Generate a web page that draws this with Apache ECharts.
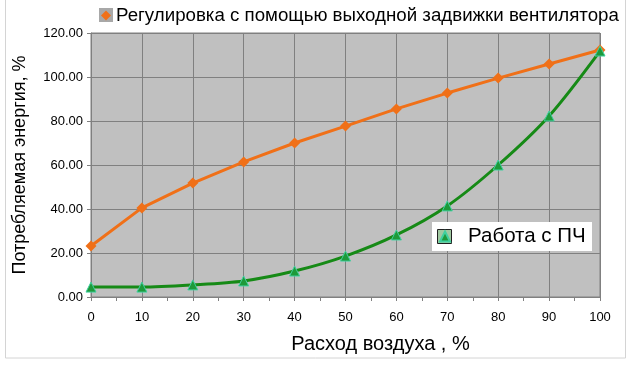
<!DOCTYPE html>
<html><head><meta charset="utf-8">
<script src="https://cdn.jsdelivr.net/npm/echarts@6/dist/echarts.min.js"></script>
<style>html,body{margin:0;padding:0;background:#fff}#c{width:631px;height:367px}</style>
</head><body><div id="c"></div>
<script>
var xValues = [0,10,20,30,40,50,60,70,80,90,100];
var valveSeries = [23.2,40.5,51.8,61.4,70.0,77.7,85.5,92.7,99.5,105.9,112.3];
var vfdSeries = [4.5,4.5,5.5,7.3,11.8,18.6,28.2,41.4,60.0,82.3,111.8];
var valveName = 'Регулировка с помощью выходной задвижки вентилятора';
var vfdName = 'Работа с ПЧ';
var xTitle = 'Расход воздуха , %';
var yTitle = 'Потребляемая энергия, %';

function pairs(v){ return xValues.map(function(x,i){ return [x, v[i]]; }); }
var font = 'Liberation Sans, Arial, sans-serif';
var chart = echarts.init(document.getElementById('c'), null, {renderer:'canvas'});
chart.setOption({
  animation:false,
  backgroundColor:'#fff',
  graphic:[
    {type:'rect', shape:{x:5.5,y:-5,width:620,height:363}, style:{fill:'none', stroke:'#d4d4d4', lineWidth:1}, z:-1},
    {type:'rect', shape:{x:99,y:8,width:14,height:14}, style:{fill:'#a8a8a8'}, z:-1},
    {type:'group', z:5, children:[
      {type:'rect', shape:{x:432,y:222,width:160,height:29}, style:{fill:'#fff'}, z:5},
      {type:'rect', shape:{x:437.5,y:229.5,width:14,height:14}, style:{fill:'#a0c8a0', stroke:'#202020', lineWidth:1}, z:5}
    ]}
  ],
  grid:{left:91, right:31, top:33, bottom:70, show:true, backgroundColor:'#c0c0c0', borderColor:'#808080', borderWidth:1},
  legend:[
    {data:[{name:valveName, icon:'diamond'}], left:101, top:6, padding:0, itemWidth:10, itemHeight:10, itemGap:4,
     textStyle:{fontFamily:font, fontSize:18.7, color:'#000', padding:[0,0,0,0]}},
    {data:[{name:vfdName, icon:'triangle'}], left:432, top:222, itemWidth:10, itemHeight:10, padding:[4,5,4,7],
     z:8, textStyle:{fontFamily:font, fontSize:20.5, color:'#000', padding:[0,0,0,13]}}
  ],
  xAxis:{type:'value', min:0, max:100, interval:10,
    name:xTitle, nameLocation:'middle', nameGap:37,
    nameTextStyle:{fontFamily:font, fontSize:20, color:'#000', padding:[0,0,0,70]},
    axisLine:{lineStyle:{color:'#808080'}},
    axisTick:{show:true, length:4, lineStyle:{color:'#808080'}},
    minorTick:{show:true, splitNumber:2, length:4, lineStyle:{color:'#808080'}},
    axisLabel:{fontFamily:font, fontSize:13, color:'#000', margin:14},
    splitLine:{show:true, lineStyle:{color:'#808080', width:1}}
  },
  yAxis:{type:'value', min:0, max:120, interval:20,
    name:yTitle, nameLocation:'middle', nameGap:62, nameRotate:90,
    nameTextStyle:{fontFamily:font, fontSize:18, color:'#000'},
    axisLine:{show:true, lineStyle:{color:'#808080'}},
    axisTick:{show:true, length:4, lineStyle:{color:'#808080'}},
    axisLabel:{fontFamily:font, fontSize:13, color:'#000', margin:8, formatter:function(v){return v.toFixed(2);}},
    splitLine:{show:true, lineStyle:{color:'#808080', width:1}}
  },
  series:[
    {name:valveName, type:'line', data:pairs(valveSeries), symbol:'diamond', symbolSize:11,
     lineStyle:{color:'#f07018', width:3}, itemStyle:{color:'#f07018'}},
    {name:vfdName, type:'line', data:pairs(vfdSeries), symbol:'triangle', symbolSize:10,
     smooth:0.3,
     lineStyle:{color:'#168a16', width:3}, itemStyle:{color:'#1e9a3a', borderColor:'#40d0a0', borderWidth:1}}
  ]
});
</script></body></html>
